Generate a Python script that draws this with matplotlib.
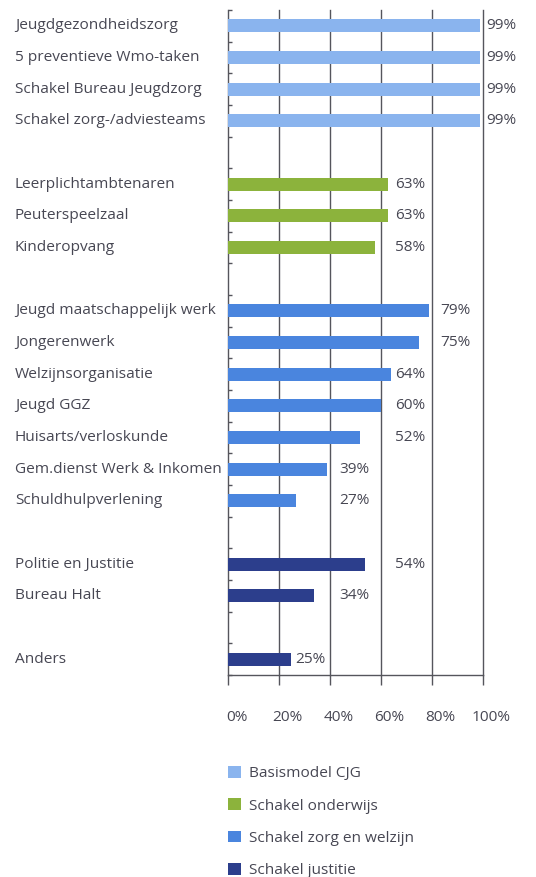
import matplotlib
matplotlib.use("Agg")
import matplotlib.pyplot as plt
from matplotlib.patches import Patch
import matplotlib.transforms as mtransforms

plt.rcParams['font.family'] = ['Open Sans', 'DejaVu Sans']

# ---- data ----
group_names = ["Basismodel CJG", "Schakel onderwijs", "Schakel zorg en welzijn", "Schakel justitie", "Schakel justitie"]
basis_labels = ["Jeugdgezondheidszorg", "5 preventieve Wmo-taken", "Schakel Bureau Jeugdzorg", "Schakel zorg-/adviesteams"]
basis_values = [99, 99, 99, 99]
onderwijs_labels = ["Leerplichtambtenaren", "Peuterspeelzaal", "Kinderopvang"]
onderwijs_values = [63, 63, 58]
zorg_labels = ["Jeugd maatschappelijk werk", "Jongerenwerk", "Welzijnsorganisatie", "Jeugd GGZ",
               "Huisarts/verloskunde", "Gem.dienst Werk & Inkomen", "Schuldhulpverlening"]
zorg_values = [79, 75, 64, 60, 52, 39, 27]
justitie_labels = ["Politie en Justitie", "Bureau Halt"]
justitie_values = [54, 34]
anders_labels = ["Anders"]
anders_values = [25]
xticks = [0, 20, 40, 60, 80, 100]
xtick_labels = ["0%", "20%", "40%", "60%", "80%", "100%"]

colors = ["#8ab4ee", "#8cb33c", "#4a85de", "#2c3e8c", "#2c3e8c"]
text_color = "#474753"
grid_color = "#55555c"
fs = 11.1

groups = [(basis_labels, basis_values), (onderwijs_labels, onderwijs_values),
          (zorg_labels, zorg_values), (justitie_labels, justitie_values),
          (anders_labels, anders_values)]

fig = plt.figure(figsize=(5.36, 8.77), dpi=100)
W, H = 536, 877
ax = fig.add_axes([227.5 / W, 1 - 675 / H, 255 / W, 665 / H])

trans_lab = mtransforms.blended_transform_factory(fig.transFigure, ax.transData)
label_slots = [26.5, 44, 65.7, 83.3, 101.4]

pos = 0
for gi, (labs, vals) in enumerate(groups):
    for lab, v in zip(labs, vals):
        ax.barh(pos, v, height=0.41, color=colors[gi], zorder=3)
        ax.text(15 / W, pos, lab, transform=trans_lab, ha='left', va='center',
                fontsize=fs, color=text_color)
        lx = next(s for s in label_slots if s >= v + 1)
        ax.text(lx, pos, f"{v}%", ha='left', va='center', fontsize=fs, color=text_color)
        pos += 1
    pos += 1
nslots = pos - 1

ax.set_xlim(0, 100)
ax.set_ylim(nslots - 0.5, -0.5)
ax.set_xticks(xticks)
ax.set_xticklabels(xtick_labels, fontsize=fs, color=text_color)
ax.tick_params(axis='x', direction='out', length=7, width=1, color=grid_color, pad=18)
offset = mtransforms.ScaledTranslation(9 / 100, 0, fig.dpi_scale_trans)
for lbl in ax.get_xticklabels():
    lbl.set_transform(lbl.get_transform() + offset)
ax.set_yticks([k - 0.5 for k in range(nslots + 1)])
ax.set_yticklabels([])
ax.tick_params(axis='y', direction='in', length=3, width=1, color=grid_color)
for x in xticks[1:]:
    ax.axvline(x, color=grid_color, lw=1, zorder=1, clip_on=False)
for s in ['top', 'right']:
    ax.spines[s].set_visible(False)
for s in ['left', 'bottom']:
    ax.spines[s].set_color(grid_color)
    ax.spines[s].set_linewidth(1)

handles = [Patch(facecolor=colors[i], edgecolor='none', label=group_names[i]) for i in range(4)]
fig.legend(handles=handles, loc='upper left', bbox_to_anchor=(222 / W, 1 - 760 / H),
           frameon=False, fontsize=fs, handlelength=0.8, handleheight=0.8,
           handletextpad=0.55, labelspacing=1.1, labelcolor=text_color, borderaxespad=0)

fig.savefig("out.png", dpi=100)
